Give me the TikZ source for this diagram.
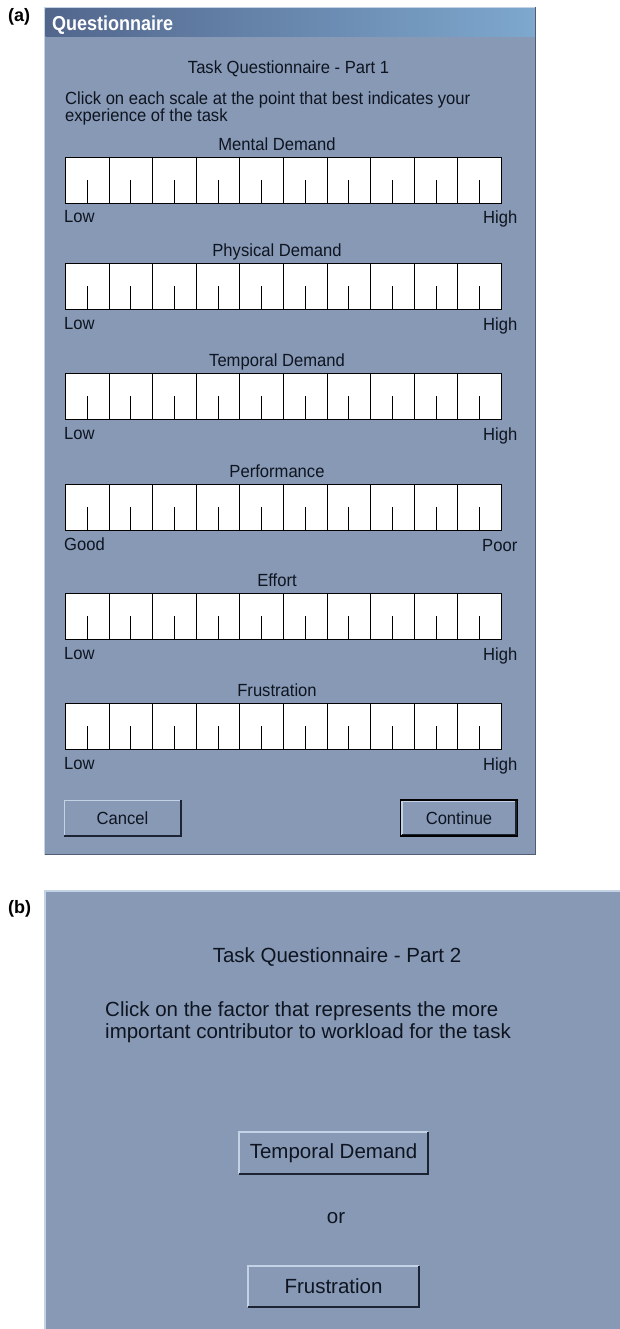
\documentclass[tikz,border=0pt]{standalone}
\usepackage{fontspec}
\setmainfont{Liberation Sans}
\definecolor{bg}{RGB}{135,153,181}
\definecolor{titleL}{RGB}{82,102,140}
\definecolor{titleR}{RGB}{126,168,206}
\definecolor{lightedge}{RGB}{196,210,230}
\definecolor{darkedge}{RGB}{28,36,52}
\definecolor{frameedge}{RGB}{80,92,112}
\definecolor{txt}{RGB}{14,20,32}
\newcommand{\fa}{\fontsize{16.6}{18}\selectfont}
\newcommand{\fb}{\fontsize{20.5}{22.5}\selectfont}
\newcommand{\tall}[1]{\scalebox{1}[1.06]{#1}}
\tikzset{
  lbl/.style={inner sep=0pt, text=txt, font=\fa},
  lblb/.style={inner sep=0pt, text=txt, font=\fb},
  btn/.style={inner sep=0pt, fill=bg, text=txt},
  bevlight/.style={draw=lightedge, line width=1.6pt},
  bevdark/.style={draw=darkedge, line width=1.8pt},
  scalebox/.style={draw=black, line width=1.4pt, fill=white},
  scaleline/.style={draw=black, line width=1.3pt},
  panellbl/.style={inner sep=0pt, font=\fontsize{18}{20}\selectfont\bfseries, text=black},
}
\begin{document}
\begin{tikzpicture}[x=1pt,y=-1pt]
\useasboundingbox (0,0) rectangle (620,1329);
\fill[white] (0,0) rectangle (620,1329);

% ---------------- panel (a) ----------------
\node[panellbl, anchor=base west] (la) at (8,22) {(a)};
\fill[bg] (44,7) rectangle (536,855);
\draw[frameedge, line width=1pt] (535.5,7) -- (535.5,854.5) -- (44,854.5);
\draw[lightedge, line width=1.2pt] (44.6,855) -- (44.6,7.6) -- (535,7.6);
\shade[left color=titleL, right color=titleR] (45.5,8.5) rectangle (534.8,37);
\node[inner sep=0pt, anchor=base west, text=white, font=\fontsize{18}{20}\selectfont\bfseries] (wtitle) at (52,30.5) {\scalebox{1}[1.12]{Questionnaire}};

\node[lbl, anchor=base] (t1) at (288.5,74) {\tall{Task Questionnaire - Part 1}};
\node[lbl, anchor=base west] (i1) at (65,105) {\tall{Click on each scale at the point that best indicates your}};
\node[lbl, anchor=base west] (i2) at (65,122) {\tall{experience of the task}};

\foreach \T/\name/\lo/\hi [count=\i] in {157/Mental Demand/Low/High,
    263/Physical Demand/Low/High,
    373/Temporal Demand/Low/High,
    484/Performance/Good/Poor,
    593/Effort/Low/High,
    703/Frustration/Low/High}{
  \node[lbl, anchor=base] (name\i) at (277,\T-6.5) {\tall{\name}};
  \draw[scalebox] (65.5,\T+0.5) rectangle (501.5,\T+46.5);
  \foreach \j in {1,...,9}{
    \pgfmathsetmacro{\xx}{round(65+\j*43.6)+0.5}
    \draw[scaleline] (\xx,\T) -- (\xx,\T+46.5);
  }
  \foreach \j in {1,...,10}{
    \pgfmathsetmacro{\xx}{round(65+\j*43.6-21.8)+0.5}
    \draw[scaleline] (\xx,\T+46.5) -- (\xx,\T+23);
  }
  \node[lbl, anchor=base west] (lo\i) at (64,\T+66) {\tall{\lo}};
  \node[lbl, anchor=base east] (hi\i) at (517.5,\T+67) {\tall{\hi}};
}

% buttons of panel a
\node[btn, font=\fa, minimum width=116pt, minimum height=35pt] (cancel) at (122.5,818) {\tall{Cancel}};
\draw[bevlight] (cancel.south west) -- (cancel.north west) -- (cancel.north east);
\draw[bevdark] (cancel.south west) -- (cancel.south east) -- (cancel.north east);

\node[btn, font=\fa, minimum width=114pt, minimum height=33pt] (cont) at (459,818) {\tall{Continue}};
\draw[bevlight] (cont.south west) -- (cont.north west) -- (cont.north east);
\draw[bevdark] (cont.south west) -- (cont.south east) -- (cont.north east);
\draw[black, line width=1.1pt] ([xshift=-1.3pt,yshift=1.3pt]cont.north west) rectangle ([xshift=1.3pt,yshift=-1.3pt]cont.south east);

% ---------------- panel (b) ----------------
\node[panellbl, anchor=base west] (lb) at (8,913) {(b)};
\fill[bg] (44,890) rectangle (620,1329);
\draw[lightedge, line width=1.5pt] (44.75,1329) -- (44.75,890.75) -- (620,890.75);

\node[lblb, anchor=base] (t2) at (337,962) {Task Questionnaire - Part 2};
\node[lblb, anchor=base west] (j1) at (105,1016) {Click on the factor that represents the more};
\node[lblb, anchor=base west] (j2) at (105,1038.5) {important contributor to workload for the task};

\node[btn, font=\fb, minimum width=189pt, minimum height=42pt] (temporal) at (333.5,1153) {Temporal Demand};
\draw[bevlight] (temporal.south west) -- (temporal.north west) -- (temporal.north east);
\draw[bevdark] (temporal.south west) -- (temporal.south east) -- (temporal.north east);

\node[lblb, anchor=base] (or) at (336,1223) {or};

\node[btn, font=\fb, minimum width=171pt, minimum height=41pt] (frus) at (333.5,1286.5) {Frustration};
\draw[bevlight] (frus.south west) -- (frus.north west) -- (frus.north east);
\draw[bevdark] (frus.south west) -- (frus.south east) -- (frus.north east);
\end{tikzpicture}
\end{document}
